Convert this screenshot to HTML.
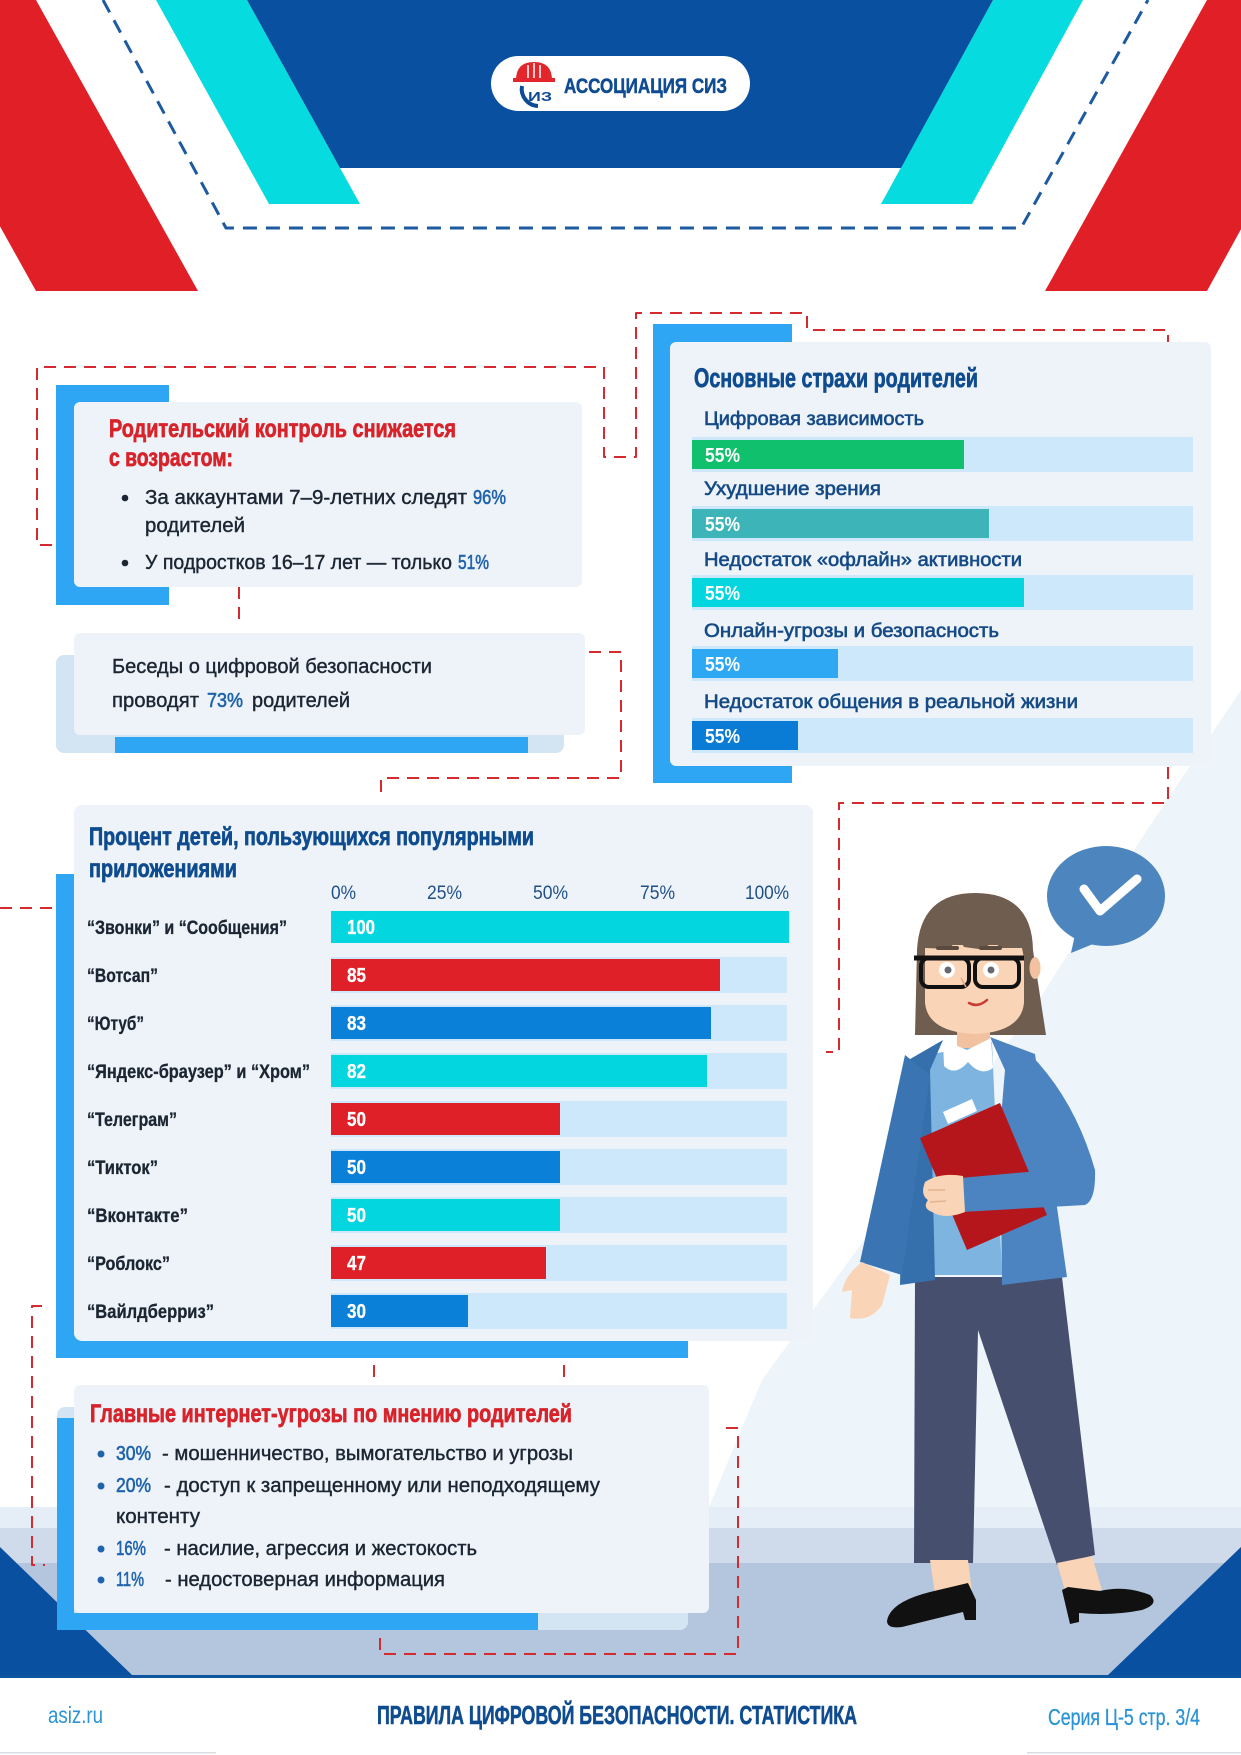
<!DOCTYPE html>
<html><head><meta charset="utf-8">
<style>
html,body{margin:0;padding:0;background:#fff}
svg{display:block}
text{font-family:"Liberation Sans","DejaVu Sans",sans-serif}
</style></head>
<body>
<svg width="1241" height="1755" viewBox="0 0 1241 1755" xmlns="http://www.w3.org/2000/svg">
<rect width="1241" height="1755" fill="#ffffff"/>
<!-- light diagonal region -->
<polygon points="1241,690 1147,830 1037,1003 762,1380 709,1507 1241,1507" fill="#edf4fa"/>
<!-- floor -->
<rect x="0" y="1507" width="1241" height="21" fill="#e5edf7"/>
<rect x="0" y="1528" width="1241" height="36" fill="#cfdbeb"/>
<rect x="0" y="1563" width="1241" height="113" fill="#b3c6de"/>
<polygon points="0,1547 133,1676 0,1676" fill="#0a50a0"/>
<polygon points="1241,1547 1107,1676 1241,1676" fill="#0a50a0"/>
<rect x="0" y="1675" width="1241" height="3" fill="#0e55a0"/>
<rect x="0" y="1752" width="216" height="1.5" fill="#d8dde3"/>
<rect x="1027" y="1752" width="214" height="1.5" fill="#d8dde3"/>

<!-- header -->
<polygon points="-126,0 36,0 198,291 36,291" fill="#e11f26"/>
<polygon points="1207,0 1367,0 1207,291 1045,291" fill="#e11f26"/>
<polygon points="156,0 247,0 360,204 269,204" fill="#06dbe0"/>
<polygon points="993,0 1083,0 972,204 881,204" fill="#06dbe0"/>
<polygon points="247,0 993,0 901,168 340,168" fill="#0a50a0"/>
<path d="M103,0 L226,228 L1021,228 L1148,0" fill="none" stroke="#1d5aa0" stroke-width="3" stroke-dasharray="14 9"/>
<rect x="491" y="56" width="259" height="55" rx="27.5" fill="#ffffff"/>
<path d="M516,80 Q516,62 534,62 Q552,62 552,80 Z" fill="#e2262c"/>
<rect x="513" y="78" width="42" height="4" fill="#e2262c"/>
<line x1="528" y1="65" x2="528" y2="78" stroke="#fff" stroke-width="1.5"/>
<line x1="534" y1="63" x2="534" y2="78" stroke="#fff" stroke-width="1.5"/>
<line x1="540" y1="65" x2="540" y2="78" stroke="#fff" stroke-width="1.5"/>
<path d="M522,86 A17 17 0 0 0 538,106" fill="none" stroke="#0e4b93" stroke-width="4"/>
<text x="528" y="101" font-size="13" font-weight="bold" fill="#0e4b93" textLength="24" lengthAdjust="spacingAndGlyphs">ИЗ</text>
<text x="564" y="93" font-size="21" font-weight="bold" fill="#0e4b93" stroke="#0e4b93" stroke-width="0.5" textLength="163" lengthAdjust="spacingAndGlyphs">АССОЦИАЦИЯ СИЗ</text>

<!-- dashed connectors -->
<g fill="none" stroke="#d42a30" stroke-width="2" stroke-dasharray="12 8" stroke-linejoin="round">
<path d="M52,545 L37,545 L37,367 L604,367 L604,457 L636,457 L636,313 L807,313 L807,330 L1168,330 L1168,350"/>
<path d="M239,587 L239,622"/>
<path d="M589,652 L621,652 L621,778 L381,778 L381,795"/>
<path d="M1168,767 L1168,803 L839,803 L839,1052 L826,1052"/>
<path d="M0,908 L53,908"/>
<path d="M42,1306 L32,1306 L32,1565 L45,1565"/>
<path d="M374,1365 L374,1380"/>
<path d="M564,1365 L564,1380"/>
<path d="M726,1428 L738,1428 L738,1654 L380,1654 L380,1633"/>
</g>

<!-- Box 1 -->
<rect x="56" y="385" width="113" height="220" fill="#2ea6f4"/>
<rect x="74" y="402" width="508" height="185" rx="6" fill="#edf3f8"/>
<text x="109" y="437" font-size="25" font-weight="bold" fill="#d8232a" stroke="#d8232a" stroke-width="0.7" textLength="347" lengthAdjust="spacingAndGlyphs">Родительский контроль снижается</text>
<text x="109" y="466" font-size="25" font-weight="bold" fill="#d8232a" stroke="#d8232a" stroke-width="0.7" textLength="124" lengthAdjust="spacingAndGlyphs">с возрастом:</text>
<circle cx="125" cy="498" r="3.3" fill="#1c2633"/>
<text x="145" y="504" font-size="20" fill="#1c2633" stroke="#1c2633" stroke-width="0.4" textLength="322" lengthAdjust="spacingAndGlyphs">За аккаунтами 7–9-летних следят</text>
<text x="473" y="504" font-size="20" fill="#1f63ad" stroke="#1f63ad" stroke-width="0.6" textLength="33" lengthAdjust="spacingAndGlyphs">96%</text>
<text x="145" y="532" font-size="20" fill="#1c2633" stroke="#1c2633" stroke-width="0.4" textLength="100" lengthAdjust="spacingAndGlyphs">родителей</text>
<circle cx="125" cy="563" r="3.3" fill="#1c2633"/>
<text x="145" y="569" font-size="20" fill="#1c2633" stroke="#1c2633" stroke-width="0.4" textLength="307" lengthAdjust="spacingAndGlyphs">У подростков 16–17 лет — только</text>
<text x="458" y="569" font-size="20" fill="#1f63ad" stroke="#1f63ad" stroke-width="0.6" textLength="31" lengthAdjust="spacingAndGlyphs">51%</text>

<!-- Box 2 -->
<rect x="56" y="655" width="508" height="98" rx="8" fill="#d3e5f3"/>
<rect x="74" y="633" width="511" height="102" rx="6" fill="#edf3f8"/>
<rect x="115" y="737" width="413" height="16" fill="#2ea6f4"/>
<text x="112" y="673" font-size="20" fill="#1c2633" stroke="#1c2633" stroke-width="0.4" textLength="320" lengthAdjust="spacingAndGlyphs">Беседы о цифровой безопасности</text>
<text x="112" y="707" font-size="20" fill="#1c2633" stroke="#1c2633" stroke-width="0.4" textLength="87" lengthAdjust="spacingAndGlyphs">проводят</text>
<text x="207" y="707" font-size="20" fill="#1f63ad" stroke="#1f63ad" stroke-width="0.6" textLength="36" lengthAdjust="spacingAndGlyphs">73%</text>
<text x="252" y="707" font-size="20" fill="#1c2633" stroke="#1c2633" stroke-width="0.4" textLength="98" lengthAdjust="spacingAndGlyphs">родителей</text>

<!-- Right box: fears -->
<rect x="653" y="324" width="139" height="459" fill="#2ea6f4"/>
<rect x="670" y="342" width="541" height="424" rx="6" fill="#edf3f8"/>
<text x="694" y="387" font-size="27" font-weight="bold" fill="#0f4c8f" stroke="#0f4c8f" stroke-width="0.7" textLength="284" lengthAdjust="spacingAndGlyphs">Основные страхи родителей</text>
<g font-size="19" fill="#154a86" stroke="#154a86" stroke-width="0.6">
<text x="704" y="425" textLength="220" lengthAdjust="spacingAndGlyphs">Цифровая зависимость</text>
<text x="704" y="495" textLength="177" lengthAdjust="spacingAndGlyphs">Ухудшение зрения</text>
<text x="704" y="566" textLength="318" lengthAdjust="spacingAndGlyphs">Недостаток «офлайн» активности</text>
<text x="704" y="637" textLength="295" lengthAdjust="spacingAndGlyphs">Онлайн-угрозы и безопасность</text>
<text x="704" y="708" textLength="374" lengthAdjust="spacingAndGlyphs">Недостаток общения в реальной жизни</text>
</g>
<g fill="#cde8fa">
<rect x="692" y="437" width="501" height="35"/>
<rect x="692" y="506" width="501" height="35"/>
<rect x="692" y="575" width="501" height="35"/>
<rect x="692" y="646" width="501" height="35"/>
<rect x="692" y="718" width="501" height="35"/>
</g>
<rect x="692" y="440" width="272" height="29" fill="#10c06c"/>
<rect x="692" y="509" width="297" height="29" fill="#3db5b8"/>
<rect x="692" y="578" width="332" height="29" fill="#03d6de"/>
<rect x="692" y="649" width="146" height="29" fill="#2fa8f4"/>
<rect x="692" y="721" width="106" height="29" fill="#0b7cd6"/>
<g font-size="20" font-weight="bold" fill="#ffffff">
<text x="705" y="462" textLength="35" lengthAdjust="spacingAndGlyphs">55%</text>
<text x="705" y="531" textLength="35" lengthAdjust="spacingAndGlyphs">55%</text>
<text x="705" y="600" textLength="35" lengthAdjust="spacingAndGlyphs">55%</text>
<text x="705" y="671" textLength="35" lengthAdjust="spacingAndGlyphs">55%</text>
<text x="705" y="743" textLength="35" lengthAdjust="spacingAndGlyphs">55%</text>
</g>

<!-- Chart box -->
<rect x="56" y="874" width="632" height="484" fill="#2ea6f4"/>
<rect x="74" y="805" width="739" height="536" rx="8" fill="#edf3f8"/>
<text x="89" y="845" font-size="25" font-weight="bold" fill="#0f4c8f" stroke="#0f4c8f" stroke-width="0.7" textLength="445" lengthAdjust="spacingAndGlyphs">Процент детей, пользующихся популярными</text>
<text x="89" y="877" font-size="25" font-weight="bold" fill="#0f4c8f" stroke="#0f4c8f" stroke-width="0.7" textLength="148" lengthAdjust="spacingAndGlyphs">приложениями</text>
<g font-size="19" fill="#1f4f88">
<text x="331" y="899" textLength="25" lengthAdjust="spacingAndGlyphs">0%</text>
<text x="427" y="899" textLength="35" lengthAdjust="spacingAndGlyphs">25%</text>
<text x="533" y="899" textLength="35" lengthAdjust="spacingAndGlyphs">50%</text>
<text x="640" y="899" textLength="35" lengthAdjust="spacingAndGlyphs">75%</text>
<text x="745" y="899" textLength="44" lengthAdjust="spacingAndGlyphs">100%</text>
</g>
<g fill="#cde8fa">
<rect x="331" y="957" width="456" height="36"/>
<rect x="331" y="1005" width="456" height="36"/>
<rect x="331" y="1053" width="456" height="36"/>
<rect x="331" y="1101" width="456" height="36"/>
<rect x="331" y="1149" width="456" height="36"/>
<rect x="331" y="1197" width="456" height="36"/>
<rect x="331" y="1245" width="456" height="36"/>
<rect x="331" y="1293" width="456" height="36"/>
</g>
<rect x="331" y="911" width="458" height="32" fill="#03d6de"/>
<rect x="331" y="959" width="389" height="32" fill="#e02028"/>
<rect x="331" y="1007" width="380" height="32" fill="#0a80d8"/>
<rect x="331" y="1055" width="376" height="32" fill="#03d6de"/>
<rect x="331" y="1103" width="229" height="32" fill="#e02028"/>
<rect x="331" y="1151" width="229" height="32" fill="#0a80d8"/>
<rect x="331" y="1199" width="229" height="32" fill="#03d6de"/>
<rect x="331" y="1247" width="215" height="32" fill="#e02028"/>
<rect x="331" y="1295" width="137" height="32" fill="#0a80d8"/>
<g font-size="19" font-weight="bold" fill="#1c2633" stroke="#1c2633" stroke-width="0.3">
<text x="87" y="934" textLength="200" lengthAdjust="spacingAndGlyphs">“Звонки” и “Сообщения”</text>
<text x="87" y="982" textLength="71" lengthAdjust="spacingAndGlyphs">“Вотсап”</text>
<text x="87" y="1030" textLength="57" lengthAdjust="spacingAndGlyphs">“Ютуб”</text>
<text x="87" y="1078" textLength="223" lengthAdjust="spacingAndGlyphs">“Яндекс-браузер” и “Хром”</text>
<text x="87" y="1126" textLength="90" lengthAdjust="spacingAndGlyphs">“Телеграм”</text>
<text x="87" y="1174" textLength="71" lengthAdjust="spacingAndGlyphs">“Тикток”</text>
<text x="87" y="1222" textLength="101" lengthAdjust="spacingAndGlyphs">“Вконтакте”</text>
<text x="87" y="1270" textLength="83" lengthAdjust="spacingAndGlyphs">“Роблокс”</text>
<text x="87" y="1318" textLength="127" lengthAdjust="spacingAndGlyphs">“Вайлдберриз”</text>
</g>
<g font-size="20" font-weight="bold" fill="#ffffff" stroke="#ffffff" stroke-width="0.3">
<text x="347" y="934" textLength="28" lengthAdjust="spacingAndGlyphs">100</text>
<text x="347" y="982" textLength="19" lengthAdjust="spacingAndGlyphs">85</text>
<text x="347" y="1030" textLength="19" lengthAdjust="spacingAndGlyphs">83</text>
<text x="347" y="1078" textLength="19" lengthAdjust="spacingAndGlyphs">82</text>
<text x="347" y="1126" textLength="19" lengthAdjust="spacingAndGlyphs">50</text>
<text x="347" y="1174" textLength="19" lengthAdjust="spacingAndGlyphs">50</text>
<text x="347" y="1222" textLength="19" lengthAdjust="spacingAndGlyphs">50</text>
<text x="347" y="1270" textLength="19" lengthAdjust="spacingAndGlyphs">47</text>
<text x="347" y="1318" textLength="19" lengthAdjust="spacingAndGlyphs">30</text>
</g>

<!-- Bottom box -->
<rect x="57" y="1407" width="631" height="223" rx="8" fill="#d3e5f3"/>
<rect x="57" y="1418" width="17" height="212" fill="#2ea6f4"/>
<rect x="57" y="1613" width="481" height="17" fill="#2ea6f4"/>
<rect x="74" y="1385" width="635" height="228" rx="6" fill="#edf3f8"/>
<text x="90" y="1422" font-size="25" font-weight="bold" fill="#d8232a" stroke="#d8232a" stroke-width="0.7" textLength="482" lengthAdjust="spacingAndGlyphs">Главные интернет-угрозы по мнению родителей</text>
<g fill="#1f63ad">
<circle cx="101" cy="1454" r="3.5"/>
<circle cx="101" cy="1486" r="3.5"/>
<circle cx="101" cy="1549" r="3.5"/>
<circle cx="101" cy="1580" r="3.5"/>
</g>
<g font-size="20" fill="#1f63ad" stroke="#1f63ad" stroke-width="0.6">
<text x="116" y="1460" textLength="35" lengthAdjust="spacingAndGlyphs">30%</text>
<text x="116" y="1492" textLength="35" lengthAdjust="spacingAndGlyphs">20%</text>
<text x="116" y="1555" textLength="30" lengthAdjust="spacingAndGlyphs">16%</text>
<text x="116" y="1586" textLength="28" lengthAdjust="spacingAndGlyphs">11%</text>
</g>
<g font-size="20" fill="#1c2633" stroke="#1c2633" stroke-width="0.4">
<text x="162" y="1460" textLength="411" lengthAdjust="spacingAndGlyphs">- мошенничество, вымогательство и угрозы</text>
<text x="164" y="1492" textLength="436" lengthAdjust="spacingAndGlyphs">- доступ к запрещенному или неподходящему</text>
<text x="116" y="1523" textLength="84" lengthAdjust="spacingAndGlyphs">контенту</text>
<text x="164" y="1555" textLength="313" lengthAdjust="spacingAndGlyphs">- насилие, агрессия и жестокость</text>
<text x="165" y="1586" textLength="280" lengthAdjust="spacingAndGlyphs">- недостоверная информация</text>
</g>

<!-- Woman -->
<ellipse cx="1106" cy="896" rx="59" ry="50" fill="#4d86bf"/>
<polygon points="1076,930 1071,953 1098,942" fill="#4d86bf"/>
<path d="M1084,889 L1100,911 L1137,879" fill="none" stroke="#ffffff" stroke-width="9" stroke-linecap="round" stroke-linejoin="round"/>
<path d="M915,1035 L917,950 Q920,893 975,893 Q1032,893 1033,950 L1046,1035 Z" fill="#6f5d50"/>
<polygon points="915,1277 1062,1277 1095,1555 1057,1565 978,1330 973,1563 914,1563" fill="#474f6e"/>
<polygon points="930,1560 968,1560 972,1592 935,1594" fill="#f9d4b6"/>
<polygon points="1057,1563 1092,1556 1102,1590 1066,1594" fill="#f9d4b6"/>
<path d="M887,1621 Q890,1602 930,1592 L968,1583 L976,1600 L976,1620 L965,1620 L963,1612 Q930,1620 902,1627 Q887,1629 887,1621 Z" fill="#111111"/>
<path d="M1062,1590 L1070,1624 L1079,1622 L1079,1613 Q1112,1616 1142,1610 Q1160,1604 1150,1595 Q1125,1585 1100,1591 L1068,1587 Z" fill="#111111"/>
<polygon points="928,1055 992,1042 1002,1275 928,1275" fill="#7db4e0"/>
<polygon points="943,1040 905,1062 900,1285 935,1280 930,1070" fill="#3570ad"/>
<polygon points="905,1055 930,1075 902,1275 860,1262" fill="#3a74b2"/>
<path d="M862,1262 Q845,1275 842,1292 L852,1290 L850,1318 Q870,1322 882,1305 L890,1275 Z" fill="#f9d4b6"/>
<polygon points="990,1037 1035,1054 1067,1277 1002,1285 1000,1130 1005,1070" fill="#4b84c0"/>
<polygon points="920,1138 1000,1103 1047,1215 967,1250" fill="#b5161b"/>
<polygon points="943,1112 972,1099 977,1111 948,1124" fill="#ffffff"/>
<path d="M1030,1054 Q1075,1100 1095,1170 Q1096,1200 1085,1205 L962,1212 L960,1178 L1050,1170 Q1038,1120 1020,1090 Z" fill="#4b84c0"/>
<path d="M963,1176 Q940,1172 925,1182 Q920,1195 928,1200 Q922,1208 932,1212 Q945,1220 965,1212 Z" fill="#f9d4b6"/>
<path d="M928,1190 L945,1190 M930,1202 L946,1201" stroke="#e5b394" stroke-width="1.5" fill="none"/>
<rect x="957" y="1022" width="33" height="26" fill="#f1c1a0"/>
<path d="M943,1040 L967,1050 L991,1038 L993,1068 Q981,1077 968,1062 Q955,1077 944,1066 Z" fill="#ffffff"/>
<ellipse cx="1035" cy="968" rx="5.5" ry="11" fill="#f1c1a0"/>
<path d="M925,945 L1024,945 L1024,1003 Q1021,1032 975,1034 Q928,1032 925,1003 Z" fill="#f9d4b6"/>
<path d="M917,958 Q917,895 975,895 Q1032,895 1033,958 L1024,958 L1022,948 L1000,948 L992,938 L986,950 L964,947 L958,936 L950,949 L925,948 L924,958 Z" fill="#6f5d50"/>
<rect x="936" y="946" width="23" height="4" rx="2" fill="#5b4a3f"/>
<rect x="979" y="946" width="23" height="4" rx="2" fill="#5b4a3f"/>
<circle cx="947" cy="970" r="8" fill="#ffffff"/>
<circle cx="948" cy="970" r="3.5" fill="#666a70"/>
<circle cx="991" cy="970" r="8" fill="#ffffff"/>
<circle cx="991" cy="970" r="3.5" fill="#666a70"/>
<rect x="921" y="958" width="48" height="29" rx="8" fill="none" stroke="#111" stroke-width="4"/>
<rect x="975" y="958" width="44" height="29" rx="8" fill="none" stroke="#111" stroke-width="4"/>
<line x1="914" y1="958" x2="1024" y2="958" stroke="#111" stroke-width="5"/>
<path d="M961,978 L966,987" stroke="#e3a988" stroke-width="1.5"/>
<path d="M969,1003 Q978,1008 987,1000" fill="none" stroke="#c93a34" stroke-width="2.5" stroke-linecap="round"/>

<!-- footer -->
<text x="48" y="1723" font-size="23" fill="#2b93d6" textLength="55" lengthAdjust="spacingAndGlyphs">asiz.ru</text>
<text x="377" y="1724" font-size="26" font-weight="bold" fill="#0f4c8f" stroke="#0f4c8f" stroke-width="0.6" textLength="480" lengthAdjust="spacingAndGlyphs">ПРАВИЛА ЦИФРОВОЙ БЕЗОПАСНОСТИ. СТАТИСТИКА</text>
<text x="1048" y="1725" font-size="23" fill="#2b93d6" stroke="#2b93d6" stroke-width="0.3" textLength="152" lengthAdjust="spacingAndGlyphs">Серия Ц-5 стр. 3/4</text>
</svg>
</body></html>
